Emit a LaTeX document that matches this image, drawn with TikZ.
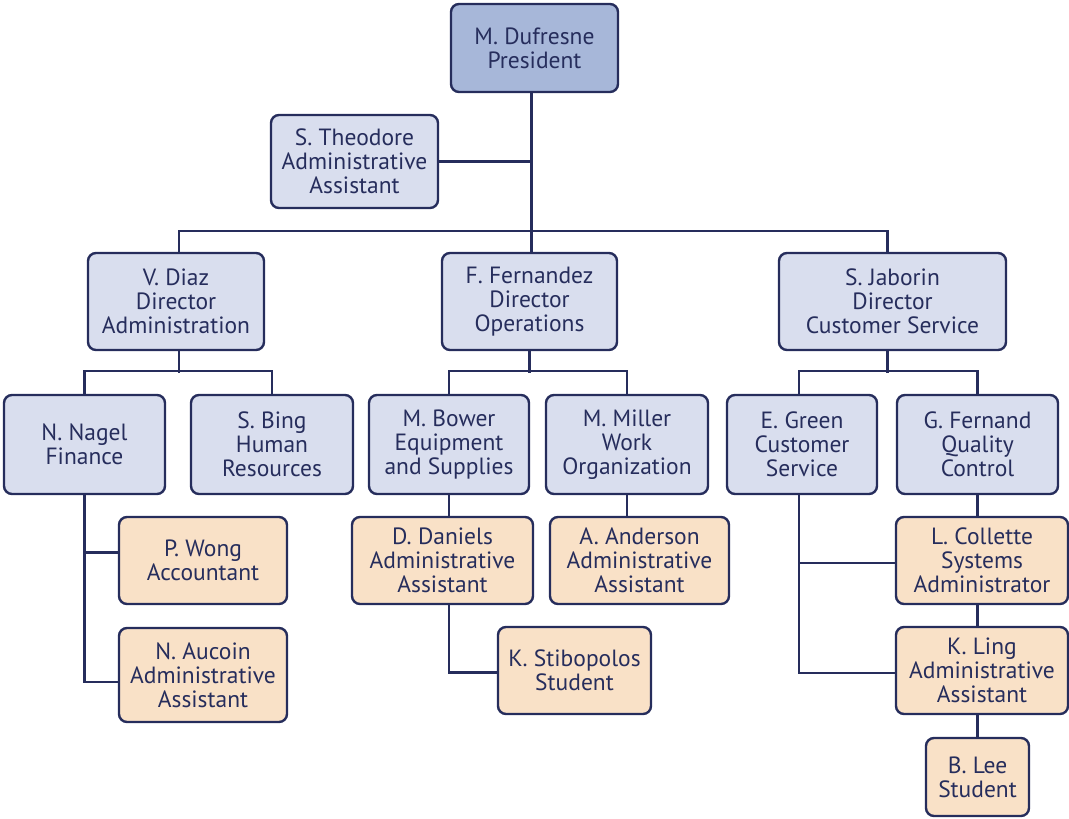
\documentclass[tikz,border=0pt]{standalone}
\usepackage{fontspec}
\setmainfont{PT Sans}
\definecolor{navy}{HTML}{262D5C}
\definecolor{topfill}{HTML}{A7B7D9}
\definecolor{midfill}{HTML}{D9DEEE}
\definecolor{lowfill}{HTML}{F9E1C7}
\tikzset{
  box/.style = {draw=navy, line width=2.4pt, rounded corners=8pt, text=navy, align=center,
                inner sep=0pt, font=\fontsize{23.5}{24}\selectfont},
  top/.style = {box, fill=topfill},
  mid/.style = {box, fill=midfill},
  low/.style = {box, fill=lowfill},
  link/.style = {draw=navy, line width=2.2pt}
}
\begin{document}
\begin{tikzpicture}[x=1pt, y=-1pt]
    \useasboundingbox (0,0) rectangle (1069,819);
    % top
    \node[top, minimum width=167, minimum height=88] (pres) at (534.5,48) {M. Dufresne\\President};
    \node[mid, minimum width=167, minimum height=93] (theo) at (354.5,161.5) {S. Theodore\\Administrative\\Assistant};
    % directors
    \node[mid, minimum width=176, minimum height=97] (diaz) at (176,301.5) {V. Diaz\\Director\\Administration};
    \node[mid, minimum width=175, minimum height=97] (fern) at (529.5,301.5) {F. Fernandez\\Director\\Operations};
    \node[mid, minimum width=227, minimum height=97] (jab) at (892.5,301.5) {S. Jaborin\\Director\\Customer Service};
    % managers
    \node[mid, minimum width=161, minimum height=99] (nagel) at (84.5,444.5) {N. Nagel\\Finance};
    \node[mid, minimum width=162, minimum height=99] (bing) at (272,444.5) {S. Bing\\Human\\Resources};
    \node[mid, minimum width=160, minimum height=99] (bower) at (449,444.5) {M. Bower\\Equipment\\and Supplies};
    \node[mid, minimum width=162, minimum height=99] (miller) at (627,444.5) {M. Miller\\Work\\Organization};
    \node[mid, minimum width=150, minimum height=99] (green) at (802,444.5) {E. Green\\Customer\\Service};
    \node[mid, minimum width=161, minimum height=99] (fernand) at (977.5,444.5) {G. Fernand\\Quality\\Control};
    % staff
    \node[low, minimum width=168, minimum height=87] (wong) at (203,560.5) {P. Wong\\Accountant};
    \node[low, minimum width=168, minimum height=94] (aucoin) at (203,675) {N. Aucoin\\Administrative\\Assistant};
    \node[low, minimum width=181, minimum height=87] (daniels) at (442.5,560.5) {D. Daniels\\Administrative\\Assistant};
    \node[low, minimum width=153, minimum height=87] (stib) at (574.5,670.5) {K. Stibopolos\\Student};
    \node[low, minimum width=179, minimum height=87] (anderson) at (639.5,560.5) {A. Anderson\\Administrative\\Assistant};
    \node[low, minimum width=172, minimum height=87] (collette) at (982,560.5) {L. Collette\\Systems\\Administrator};
    \node[low, minimum width=172, minimum height=87] (ling) at (982,670.5) {K. Ling\\Administrative\\Assistant};
    \node[low, minimum width=103, minimum height=78] (lee) at (977.5,777) {B. Lee\\Student};
    % link ends
    \coordinate (trunk) at ([xshift=-3pt]pres.south);
    \coordinate (diazin) at ([xshift=3pt]diaz.north);
    \coordinate (diazout) at ([xshift=3pt]diaz.south);
    \coordinate (jabin) at ([xshift=-5pt]jab.north);
    \coordinate (jabout) at ([xshift=-5pt]jab.south);
    \coordinate (greenin) at ([xshift=-3pt]green.north);
    \coordinate (greenout) at ([xshift=-3pt]green.south);
    \coordinate (wongin) at ([yshift=8pt]wong.west);
    \coordinate (aucoinin) at ([yshift=-7pt]aucoin.west);
    \coordinate (stibin) at ([yshift=-2pt]stib.west);
    \coordinate (collettein) at ([yshift=-2.5pt]collette.west);
    \coordinate (lingin) at ([yshift=-2.5pt]ling.west);
    % links
    \draw[link] (trunk) -- (trunk |- fern.north);
    \draw[link] (theo.east) -- (theo.east -| trunk);
    \draw[link] (diazin) -- ++(0,-21) -| (jabin);
    \draw[link] (diazout) -- ++(0,22);
    \draw[link] (nagel.north) -- ++(0,-23) -| (bing.north);
    \draw[link] (fern.south) -- ++(0,22);
    \draw[link] (bower.north) -- ++(0,-23) -| (miller.north);
    \draw[link] (jabout) -- ++(0,22);
    \draw[link] (greenin) -- ++(0,-23) -| (fernand.north);
    \draw[link] (nagel.south) |- (aucoinin);
    \draw[link] (nagel.south |- wongin) -- (wongin);
    \draw[link] (bower.south) -- (bower.south |- daniels.north);
    \draw[link] (bower.south |- daniels.south) |- (stibin);
    \draw[link] (miller.south) -- (miller.south |- anderson.north);
    \draw[link] (greenout) |- (lingin);
    \draw[link] (greenout |- collettein) -- (collettein);
    \draw[link] (fernand.south) -- (fernand.south |- collette.north);
    \draw[link] (fernand.south |- collette.south) -- (fernand.south |- ling.north);
    \draw[link] (fernand.south |- ling.south) -- (lee.north);
\end{tikzpicture}
\end{document}
